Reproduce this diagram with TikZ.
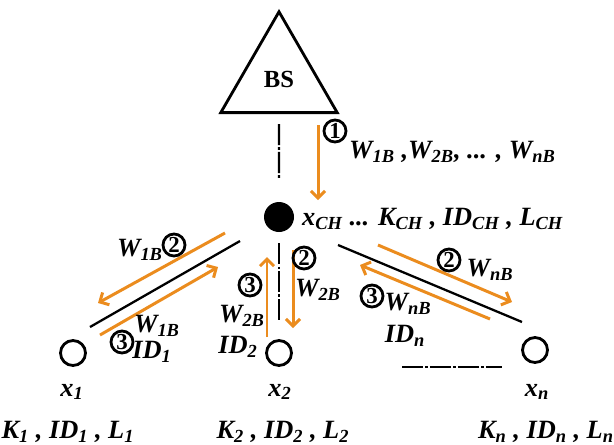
\documentclass[tikz,border=0pt]{standalone}
\usepackage{fontspec}
\setmainfont{Liberation Serif}
\usetikzlibrary{shapes.geometric,arrows.meta}
\definecolor{sigorange}{RGB}{235,140,30}
\newcommand\subs[1]{\textsubscript{#1}}
\begin{document}
\begin{tikzpicture}[x=0.02cm, y=-0.02cm, every node/.style={font=\fontsize{15}{18}\selectfont\bfseries\itshape},
  member/.style={draw,circle,line width=1.6pt,minimum size=0.5cm,inner sep=0pt},
  num/.style={draw,circle,line width=1.6pt,minimum size=0.44cm,inner sep=0pt,font=\fontsize{13}{14}\selectfont\bfseries},
  sig/.style={sigorange,line width=1.7pt,-{Straight Barb[length=4pt,width=8pt]}},
  link/.style={line width=1.3pt},
  chain/.style={line width=1.2pt,dash pattern=on 12pt off 1.2pt on 1.5pt off 1.2pt}]
\useasboundingbox (0,0) rectangle (614,444);
\node[draw,regular polygon,regular polygon sides=3,line width=1.6pt,minimum size=2.69cm,inner sep=0pt,font=\fontsize{14}{16}\selectfont\bfseries] (bs) at (279,79) {BS};
\node[circle,fill=black,minimum size=0.6cm,inner sep=0pt] (ch) at (279,217) {};
\node[member] (m1) at (73,353) {};
\node[member] (m2) at (279,353) {};
\node[member] (mn) at (535,350) {};
\coordinate (l1a) at (240,241);
\coordinate (l1b) at (90,327);
\coordinate (lna) at (338,245);
\coordinate (lnb) at (522,322);
\coordinate (dota) at (402,367);
\coordinate (dotb) at (502,367);
\draw[chain,shorten <=0.2cm,shorten >=0.44cm] (bs.south) -- (ch.north);
\draw[chain,shorten <=0.22cm,shorten >=0.34cm] (ch.south) -- (m2.north);
\draw[link] (l1a) -- (l1b);
\draw[link] (lna) -- (lnb);
\draw[chain] (dota) -- (dotb);
\coordinate (s1a) at (318,125);
\coordinate (s1b) at (318,200);
\coordinate (s21a) at (225,233);
\coordinate (s21b) at (98,303);
\coordinate (s31a) at (100,335);
\coordinate (s31b) at (218,267);
\coordinate (s32a) at (267,337);
\coordinate (s32b) at (267,257);
\coordinate (s22a) at (293,250);
\coordinate (s22b) at (293,328);
\coordinate (s2na) at (378,245);
\coordinate (s2nb) at (512,302);
\coordinate (s3na) at (490,319);
\coordinate (s3nb) at (360,265);
\draw[sig] (s1a) -- (s1b);
\draw[sig] (s21a) -- (s21b);
\draw[sig] (s31a) -- (s31b);
\draw[sig] (s32a) -- (s32b);
\draw[sig] (s22a) -- (s22b);
\draw[sig] (s2na) -- (s2nb);
\draw[sig] (s3na) -- (s3nb);
\node[num] (c1) at (335,131) {1};
\node[anchor=west] (topmsg) at (343,152) {W\subs{1B} ,W\subs{2B}, ... , W\subs{nB}};
\node[anchor=west] (chlbl) at (296,219) {x\subs{CH} ... K\subs{CH} , ID\subs{CH} , L\subs{CH}};
\node (w1a) at (140,250) {W\subs{1B}};
\node[num] (c2a) at (174,245) {2};
\node (w1b) at (157,326) {W\subs{1B}};
\node[num] (c3a) at (122,342) {3};
\node (id1) at (152,352) {ID\subs{1}};
\node[num] (c2b) at (304,258) {2};
\node (w2a) at (318,290) {W\subs{2B}};
\node[num] (c3b) at (250,285) {3};
\node (w2b) at (242,316) {W\subs{2B}};
\node (id2) at (238,347) {ID\subs{2}};
\node[num] (c2c) at (449,260) {2};
\node (wna) at (490,270) {W\subs{nB}};
\node[num] (c3c) at (372,296) {3};
\node (wnb) at (408,304) {W\subs{nB}};
\node (idn) at (405,336) {ID\subs{n}};
\node (lx1) at (72,392) {x\subs{1}};
\node (lx2) at (280,392) {x\subs{2}};
\node (lxn) at (537,392) {x\subs{n}};
\node (lk1) at (68,432) {K\subs{1} , ID\subs{1} , L\subs{1}};
\node (lk2) at (283,432) {K\subs{2} , ID\subs{2} , L\subs{2}};
\node (lkn) at (546,432) {K\subs{n} , ID\subs{n} , L\subs{n}};
\end{tikzpicture}
\end{document}
